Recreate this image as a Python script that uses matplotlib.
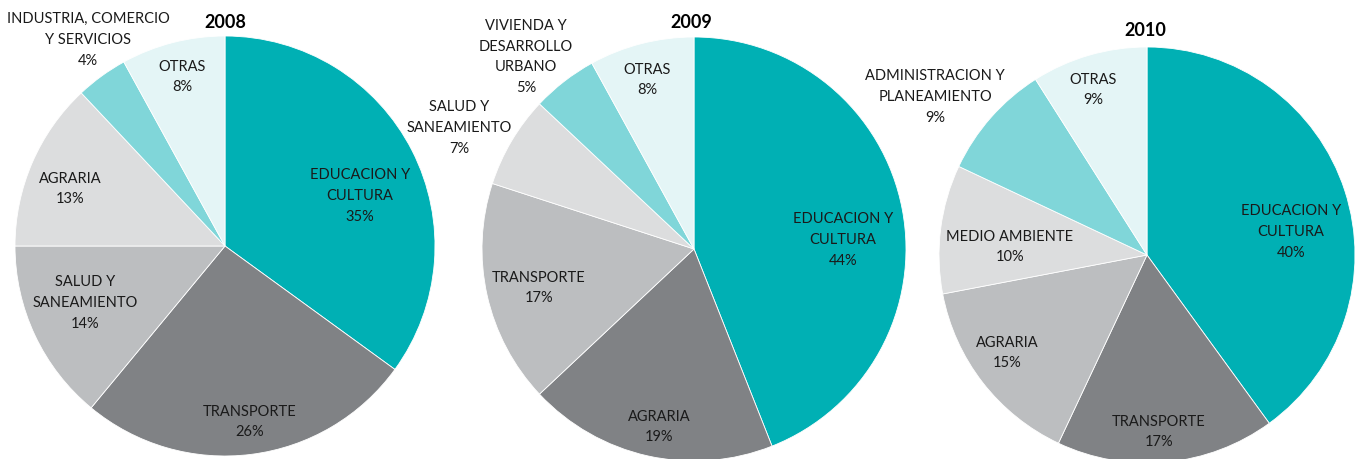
import matplotlib
matplotlib.use("Agg")
import matplotlib.pyplot as plt

plt.rcParams['font.family'] = ['Lato', 'DejaVu Sans']

years = ["2008", "2009", "2010"]

labels_2008 = ["EDUCACION Y\nCULTURA", "TRANSPORTE", "SALUD Y\nSANEAMIENTO", "AGRARIA",
               "INDUSTRIA, COMERCIO\nY SERVICIOS", "OTRAS"]
values_2008 = [35, 26, 14, 13, 4, 8]

labels_2009 = ["EDUCACION Y\nCULTURA", "AGRARIA", "TRANSPORTE", "SALUD Y\nSANEAMIENTO",
               "VIVIENDA Y\nDESARROLLO\nURBANO", "OTRAS"]
values_2009 = [44, 19, 17, 7, 5, 8]

labels_2010 = ["EDUCACION Y\nCULTURA", "TRANSPORTE", "AGRARIA", "MEDIO AMBIENTE",
               "ADMINISTRACION Y\nPLANEAMIENTO", "OTRAS"]
values_2010 = [40, 17, 15, 10, 9, 9]

colors = ["#00B0B4", "#808285", "#BCBEC0", "#DCDDDE", "#80D6D9", "#E4F5F6"]

# layout (pixels, y from top)
W, H = 1362, 459
centers = [(225, 246), (694, 249), (1147, 255)]
radii = [210, 212, 208]
title_pos = [(225, 22), (691, 22), (1145, 30)]
# label positions in units of radius relative to centre
label_pos = [
    [(0.643, 0.238), (0.119, -0.838), (-0.667, -0.271), (-0.738, 0.271), (-0.652, 0.981), (-0.205, 0.805)],
    [(0.703, 0.042), (-0.165, -0.840), (-0.731, -0.184), (-1.108, 0.571), (-0.792, 0.906), (-0.222, 0.797)],
    [(0.692, 0.111), (0.058, -0.851), (-0.673, -0.471), (-0.659, 0.038), (-1.019, 0.760), (-0.260, 0.793)],
]

all_labels = [labels_2008, labels_2009, labels_2010]
all_values = [values_2008, values_2009, values_2010]

fig = plt.figure(figsize=(W / 100, H / 100), dpi=100)
ax = fig.add_axes([0, 0, 1, 1])

for i in range(3):
    cx, cy = centers[i]
    cy = H - cy
    r = radii[i]
    ax.pie(all_values[i], colors=colors, startangle=90, counterclock=False,
           center=(cx, cy), radius=r, frame=True,
           wedgeprops=dict(edgecolor='white', linewidth=0.6))
    for lab, val, (fx, fy) in zip(all_labels[i], all_values[i], label_pos[i]):
        ax.text(cx + fx * r, cy + fy * r, f"{lab}\n{val}%", ha='center', va='center',
                fontsize=10.5, color='#1a1a1a', linespacing=1.6)
    tx, ty = title_pos[i]
    ax.text(tx, H - ty, years[i], ha='center', va='center', fontsize=13,
            fontweight='bold', color='black')

ax.set_xlim(0, W)
ax.set_ylim(0, H)
ax.set_aspect('equal')
ax.axis('off')
fig.savefig("out.png", dpi=100)
